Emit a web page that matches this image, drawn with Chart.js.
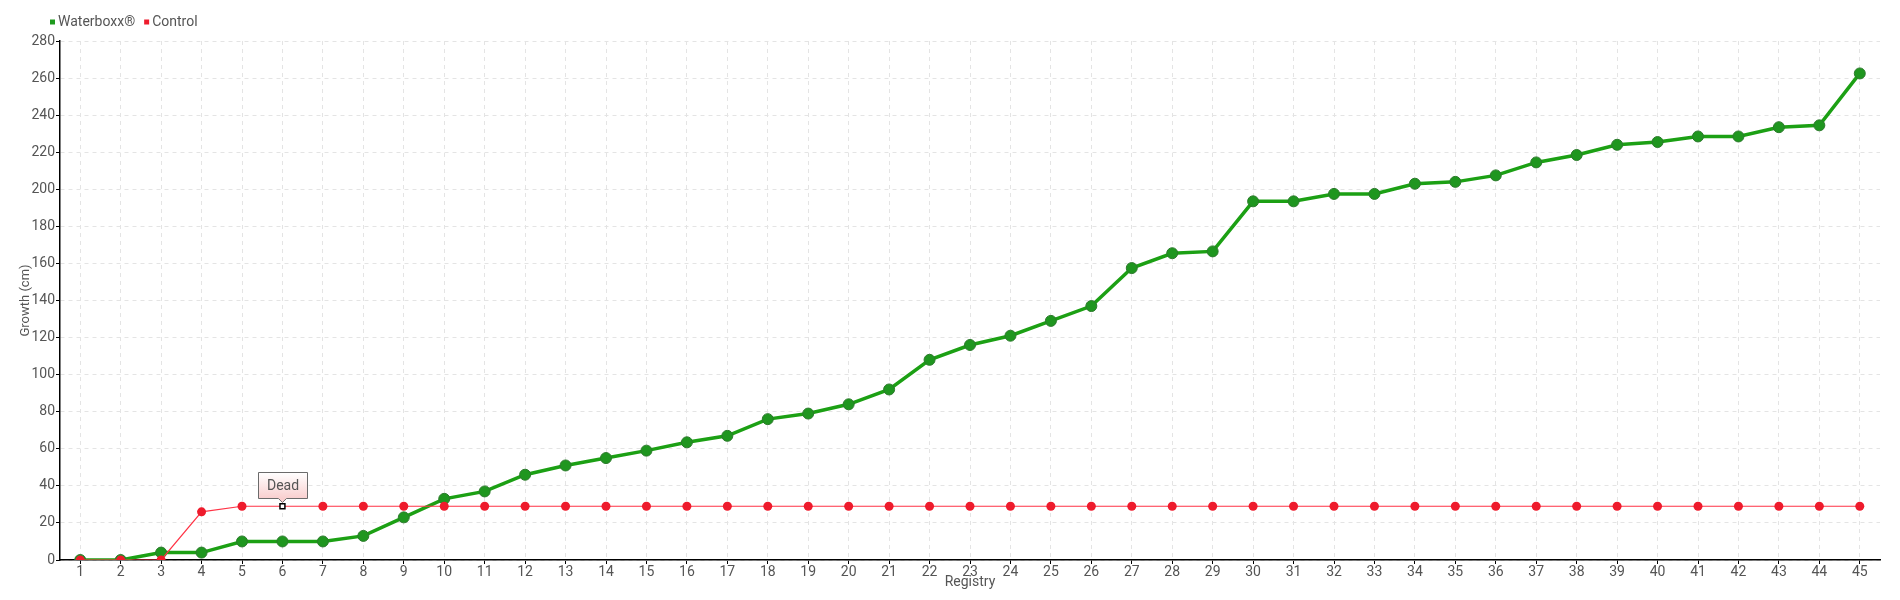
<!DOCTYPE html>
<html>
<head>
<meta charset="utf-8">
<title>Growth</title>
<script src="https://cdn.jsdelivr.net/npm/chart.js@4.4.0/dist/chart.umd.min.js"></script>
<style>
    html, body { margin: 0; padding: 0; background: #fff; }
    #wrap { width: 1900px; height: 600px; }
</style>
</head>
<body>
<div id="wrap"><canvas id="myChart" width="1900" height="600"></canvas></div>
<script>
var registry = [];
for (var i = 1; i <= 45; i++) { registry.push(String(i)); }

var waterboxx = [0, 0, 4, 4, 10, 10, 10, 13, 23, 33, 37, 46, 51, 55, 59, 63.5, 67, 76, 79, 84,
    92, 108, 116, 121, 129, 137, 157.5, 165.5, 166.5, 193.5, 193.5, 197.5, 197.5, 203, 204,
    207.5, 214.5, 218.5, 224, 225.5, 228.5, 228.5, 233.5, 234.5, 262.5];

var control = [0, 0, 0, 26, 29, 29, 29, 29, 29, 29, 29, 29, 29, 29, 29, 29, 29, 29, 29, 29,
    29, 29, 29, 29, 29, 29, 29, 29, 29, 29, 29, 29, 29, 29, 29, 29, 29, 29, 29, 29,
    29, 29, 29, 29, 29];

var seriesNames = ["Waterboxx\u00AE", "Control"];
var yTicks = [0, 20, 40, 60, 80, 100, 120, 140, 160, 180, 200, 220, 240, 260, 280];
var deadIndex = 5;
var deadText = "Dead";

var font = "'Liberation Sans Narrow', Roboto, sans-serif";
var fontSize = 14;
var textColor = "#555";

// red points: the dead one is a small white square
var ctrlStyle = control.map(function (v, i) { return i === deadIndex ? 'rect' : 'circle'; });
var ctrlFill = control.map(function (v, i) { return i === deadIndex ? '#fff' : '#ee1b2c'; });
var ctrlBorder = control.map(function (v, i) { return i === deadIndex ? '#000' : '#ee1b2c'; });
var ctrlRadius = control.map(function (v, i) { return i === deadIndex ? 3.5 : 4.5; });
var ctrlBorderW = control.map(function (v, i) { return i === deadIndex ? 1.5 : 0; });

var legendPlugin = {
    id: 'topLegend',
    afterDraw: function (chart) {
        var ctx = chart.ctx;
        var x = 50, y = 22;
        ctx.save();
        ctx.font = fontSize + "px " + font;
        ctx.textBaseline = 'middle';
        chart.data.datasets.forEach(function (ds) {
            ctx.fillStyle = ds.legendColor;
            ctx.fillRect(x, y - 2.5, 5, 5);
            ctx.fillStyle = textColor;
            ctx.fillText(ds.label, x + 8, y);
            x += 8 + ctx.measureText(ds.label).width + 9;
        });
        ctx.restore();
    }
};

var deadPlugin = {
    id: 'deadLabel',
    afterDatasetsDraw: function (chart) {
        var pt = chart.getDatasetMeta(1).data[deadIndex];
        var ctx = chart.ctx;
        var w = 49, h = 26;
        var left = Math.round(pt.x - w / 2) + 0.5;
        var bottom = Math.round(pt.y) - 8 + 0.5;
        var top = bottom - h;
        ctx.save();
        var g = ctx.createLinearGradient(0, top, 0, bottom);
        g.addColorStop(0, '#ffffff');
        g.addColorStop(1, '#f9cfcf');
        ctx.beginPath();
        ctx.moveTo(left, top);
        ctx.lineTo(left + w, top);
        ctx.lineTo(left + w, bottom);
        ctx.lineTo(pt.x + 4, bottom);
        ctx.lineTo(pt.x, bottom + 4);
        ctx.lineTo(pt.x - 4, bottom);
        ctx.lineTo(left, bottom);
        ctx.closePath();
        ctx.fillStyle = g;
        ctx.fill();
        ctx.strokeStyle = '#6b6b6b';
        ctx.lineWidth = 1;
        ctx.stroke();
        ctx.fillStyle = textColor;
        ctx.font = fontSize + "px " + font;
        ctx.textAlign = 'center';
        ctx.textBaseline = 'middle';
        ctx.fillText(deadText, left + w / 2, top + h / 2 + 1);
        ctx.restore();
    }
};

var ctx = document.getElementById("myChart");
var myChart = new Chart(ctx, {
    type: 'line',
    data: {
        labels: registry,
        datasets: [
            {
                label: seriesNames[0],
                data: waterboxx,
                order: 1,
                legendColor: '#1e9a1e',
                borderColor: '#1ca014',
                borderWidth: 3.5,
                backgroundColor: '#1f961f',
                pointBackgroundColor: '#1f961f',
                pointBorderColor: '#2c7a2c',
                pointBorderWidth: 1,
                pointRadius: 5.5,
                tension: 0
            },
            {
                label: seriesNames[1],
                data: control,
                order: 0,
                legendColor: '#ee1b2c',
                borderColor: '#ff3345',
                borderWidth: 1.2,
                backgroundColor: '#ee1b2c',
                pointStyle: ctrlStyle,
                pointBackgroundColor: ctrlFill,
                pointBorderColor: ctrlBorder,
                pointBorderWidth: ctrlBorderW,
                pointRadius: ctrlRadius,
                tension: 0
            }
        ]
    },
    options: {
        responsive: false,
        animation: false,
        layout: {
            padding: { top: 41, right: 20, left: 0, bottom: 0 }
        },
        plugins: {
            legend: { display: false },
            tooltip: { enabled: false }
        },
        scales: {
            x: {
                offset: true,
                afterFit: function (scale) { scale.height = 40; },
                grid: {
                    color: '#e4e4e4',
                    tickColor: '#000',
                    tickLength: 4,
                    tickBorderDash: [],
                    offset: false
                },
                border: { color: '#000', width: 1.5, dash: [4, 4] },
                ticks: {
                    color: textColor,
                    font: { family: font, size: fontSize },
                    padding: 0,
                    maxRotation: 0,
                    autoSkip: false
                },
                title: {
                    display: true,
                    text: 'Registry',
                    color: textColor,
                    font: { family: font, size: fontSize },
                    padding: { top: 0, bottom: 9 }
                }
            },
            y: {
                min: 0,
                max: 280,
                afterFit: function (scale) { scale.width = 60; },
                afterBuildTicks: function (scale) {
                    scale.ticks = yTicks.map(function (v) { return { value: v }; });
                },
                grid: {
                    color: '#e4e4e4',
                    tickColor: '#000',
                    tickLength: 4,
                    tickBorderDash: []
                },
                border: { color: '#000', width: 1.5, dash: [4, 4] },
                ticks: {
                    color: textColor,
                    font: { family: font, size: fontSize },
                    padding: 1
                },
                title: {
                    display: true,
                    text: 'Growth (cm)',
                    color: textColor,
                    font: { family: font, size: 13 },
                    padding: 18
                }
            }
        }
    },
    plugins: [legendPlugin, deadPlugin]
});
</script>
</body>
</html>
